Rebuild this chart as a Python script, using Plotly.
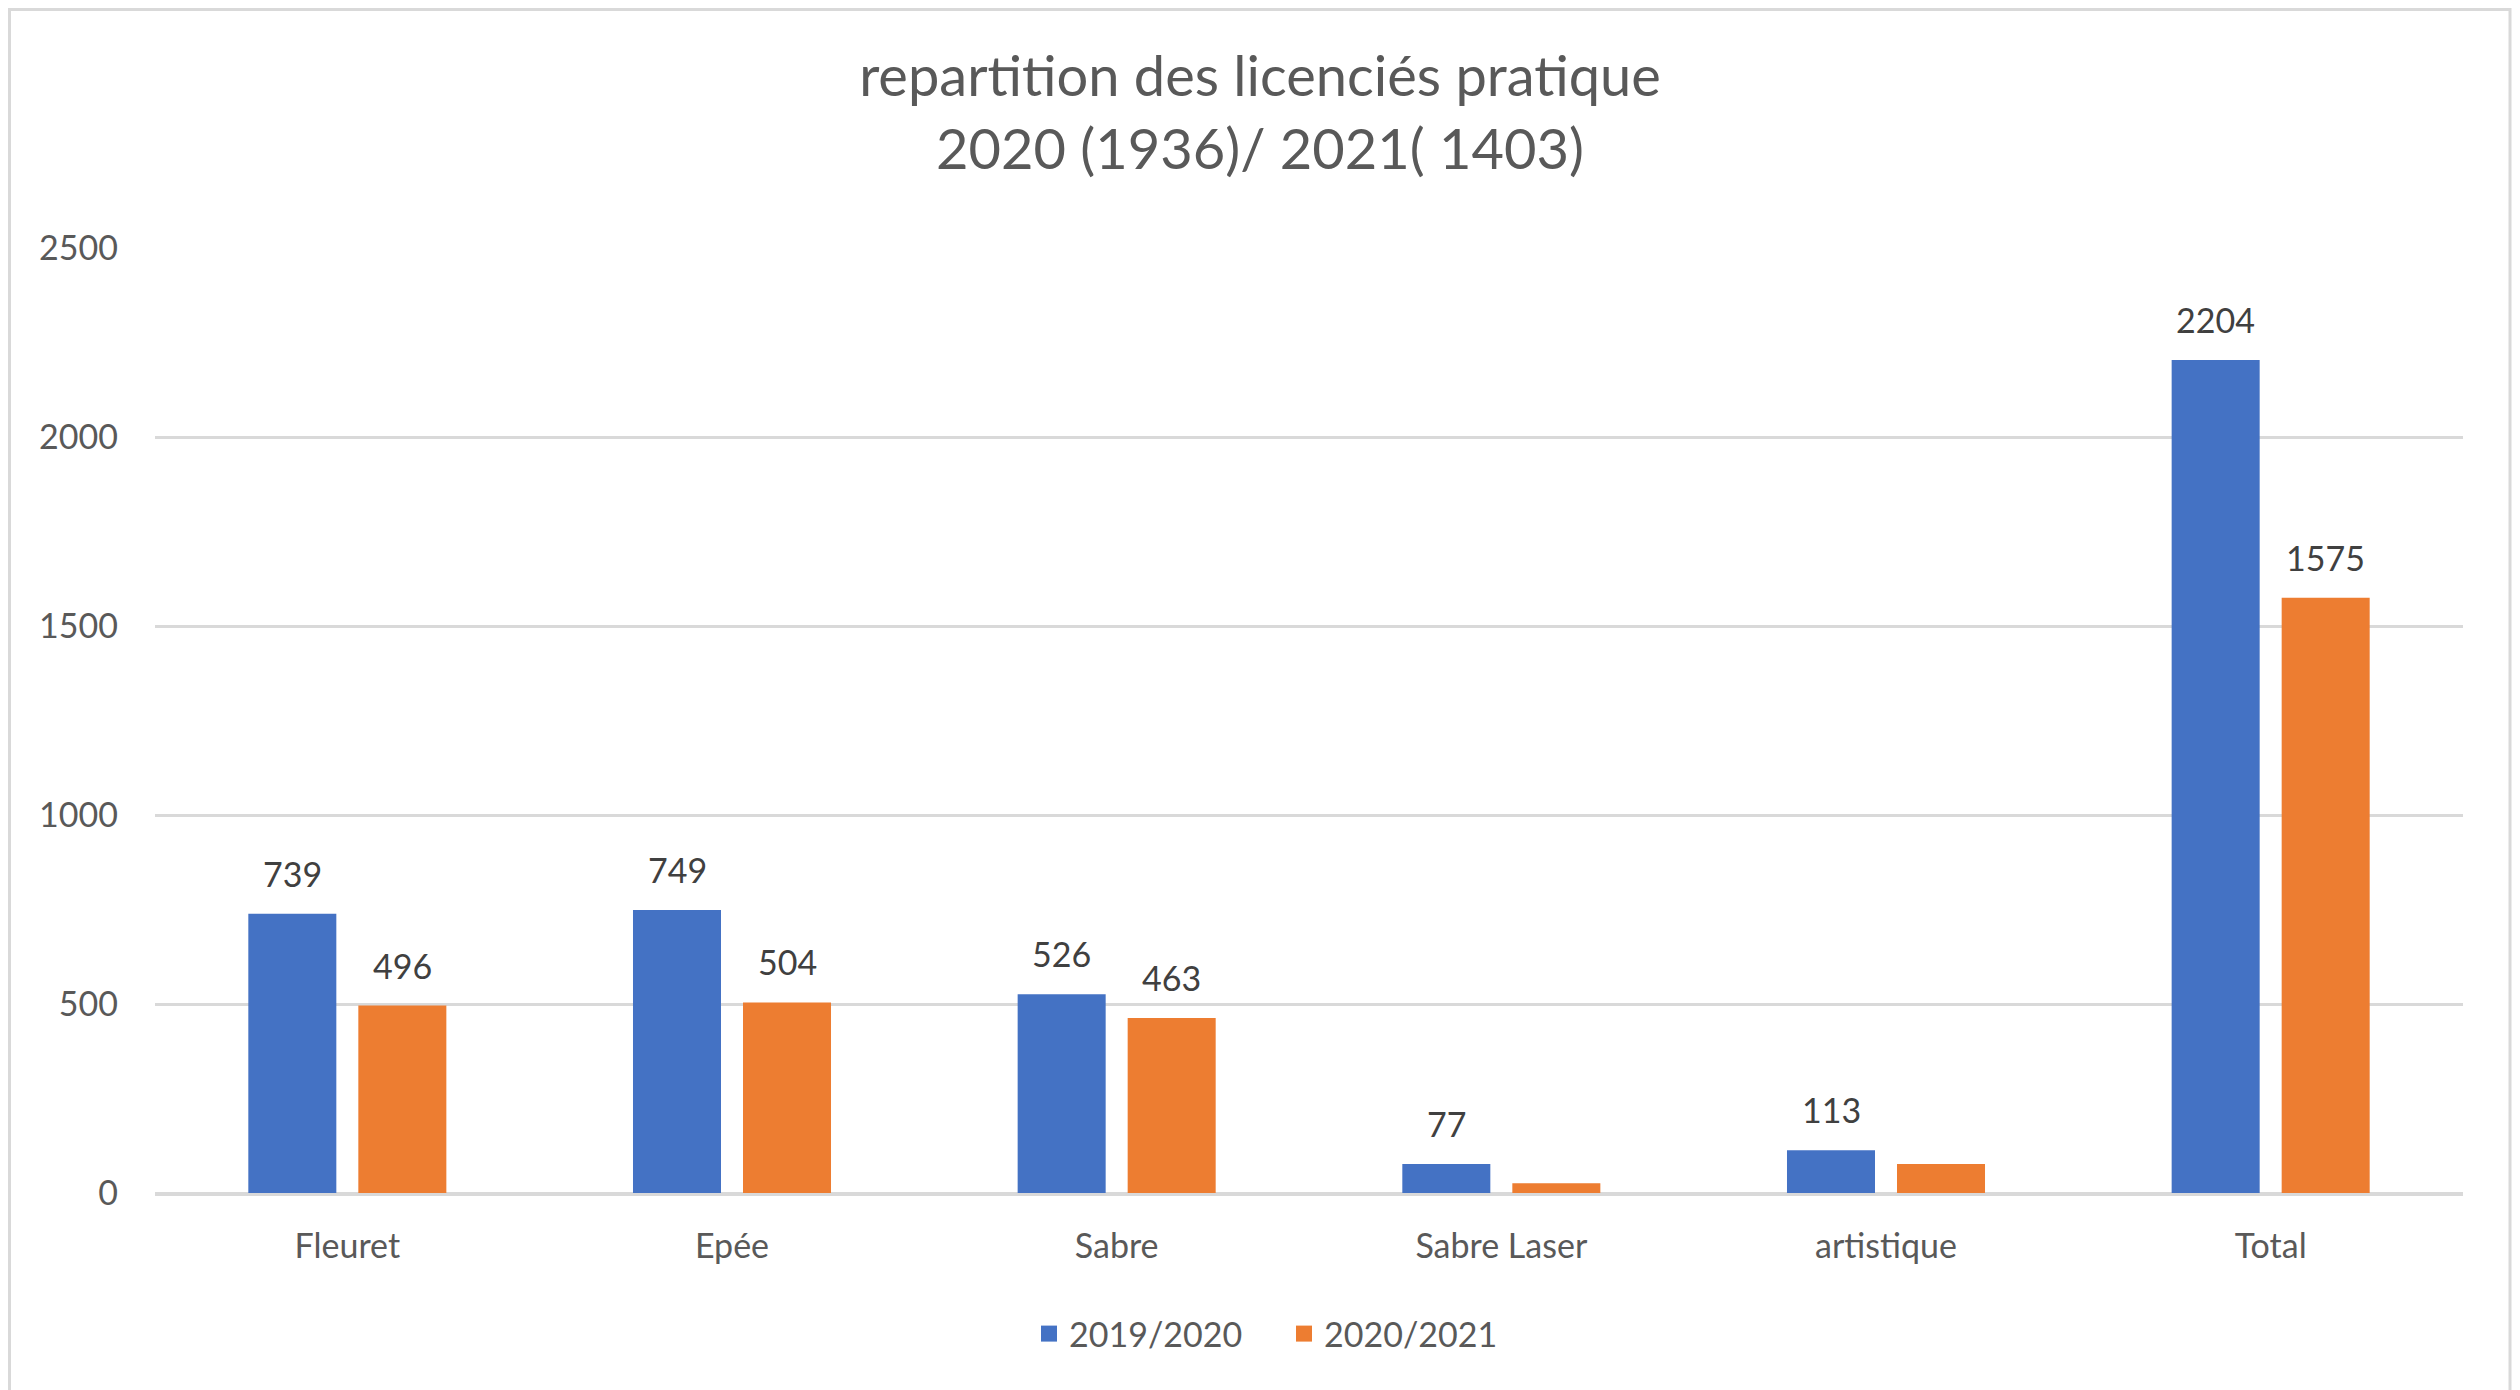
import plotly.graph_objects as go

categories = ["Fleuret", "Epée", "Sabre", "Sabre Laser", "artistique", "Total"]
s2019_2020 = [739, 749, 526, 77, 113, 2204]
s2020_2021 = [496, 504, 463, 26, 77, 1575]
labels_2019_2020 = ["739", "749", "526", "77", "113", "2204"]
labels_2020_2021 = ["496", "504", "463", "", "", "1575"]
series_names = ["2019/2020", "2020/2021"]
title_lines = ["repartition des licenciés pratique", "2020 (1936)/ 2021( 1403)"]
y_ticks = [0, 500, 1000, 1500, 2000, 2500]

FONT = "Lato"
BLUE = "#4472C4"
ORANGE = "#ED7D31"
TXT = "#595959"
LBL = "#404040"
GRID = "#D9D9D9"

# page has an 8px body margin: figure is drawn at (8,8)
W, H = 2512, 1382
L, R, T, B = 147, 57, 240, 197
PW = W - L - R
PH = H - T - B


def px_x(px):
    return (px - L) / PW


def px_y(py):
    return (H - B - py) / PH


fig = go.Figure()
fig.add_trace(go.Bar(name=series_names[0], x=categories, y=s2019_2020,
                     marker=dict(color=BLUE, line=dict(width=0)),
                     offsetgroup="a", showlegend=False))
fig.add_trace(go.Bar(name=series_names[1], x=categories, y=s2020_2021,
                     marker=dict(color=ORANGE, line=dict(width=0)),
                     offsetgroup="b", showlegend=False))
# legend entries (square markers)
for nm, col in zip(series_names, [BLUE, ORANGE]):
    fig.add_trace(go.Scatter(x=[None], y=[None], mode="markers", name=nm,
                             marker=dict(symbol="square", size=16, color=col)))

# data labels above bars
for cat, v, t in zip(categories, s2019_2020, labels_2019_2020):
    if t:
        fig.add_annotation(x=cat, y=v, text=t, showarrow=False, yanchor="bottom",
                           yshift=18, xshift=-55, font=dict(family=FONT, size=34, color=LBL))
for cat, v, t in zip(categories, s2020_2021, labels_2020_2021):
    if t:
        fig.add_annotation(x=cat, y=v, text=t, showarrow=False, yanchor="bottom",
                           yshift=18, xshift=55, font=dict(family=FONT, size=34, color=LBL))

# chart border
fig.add_shape(type="rect", xref="paper", yref="paper",
              x0=px_x(1.5), x1=px_x(2502), y0=px_y(H + 20), y1=px_y(1.5),
              line=dict(color=GRID, width=3), fillcolor="rgba(0,0,0,0)", layer="below")

fig.update_layout(
    width=W, height=H,
    margin=dict(l=L, r=R, t=T, b=B, autoexpand=False),
    paper_bgcolor="white", plot_bgcolor="white",
    font=dict(family=FONT, color=TXT, size=34),
    title=dict(text="<br>".join(title_lines), x=(1260 - 8) / W, xref="container", xanchor="center",
               y=1 - 88 / H, yref="container", yanchor="middle",
               font=dict(family=FONT, size=56, color=TXT)),
    barmode="group", bargap=0.428, bargroupgap=0.2,
    showlegend=True,
    legend=dict(orientation="h", x=px_x(1284 - 8), xanchor="center",
                y=px_y(1334 - 8), yanchor="middle",
                font=dict(family=FONT, size=34, color=TXT),
                itemsizing="trace", entrywidth=210, traceorder="normal"),
    xaxis=dict(showgrid=False, showline=True, linecolor=GRID, linewidth=3,
               ticks="", tickfont=dict(family=FONT, size=34, color=TXT),
               ticklabelstandoff=21),
    yaxis=dict(range=[0, 2500], tickvals=y_ticks, showgrid=True, gridcolor=GRID,
               gridwidth=3, zeroline=True, zerolinecolor=GRID, zerolinewidth=3,
               showline=False, ticks="", tickfont=dict(family=FONT, size=34, color=TXT),
               ticklabelstandoff=36),
)

fig.write_html("out.html")
